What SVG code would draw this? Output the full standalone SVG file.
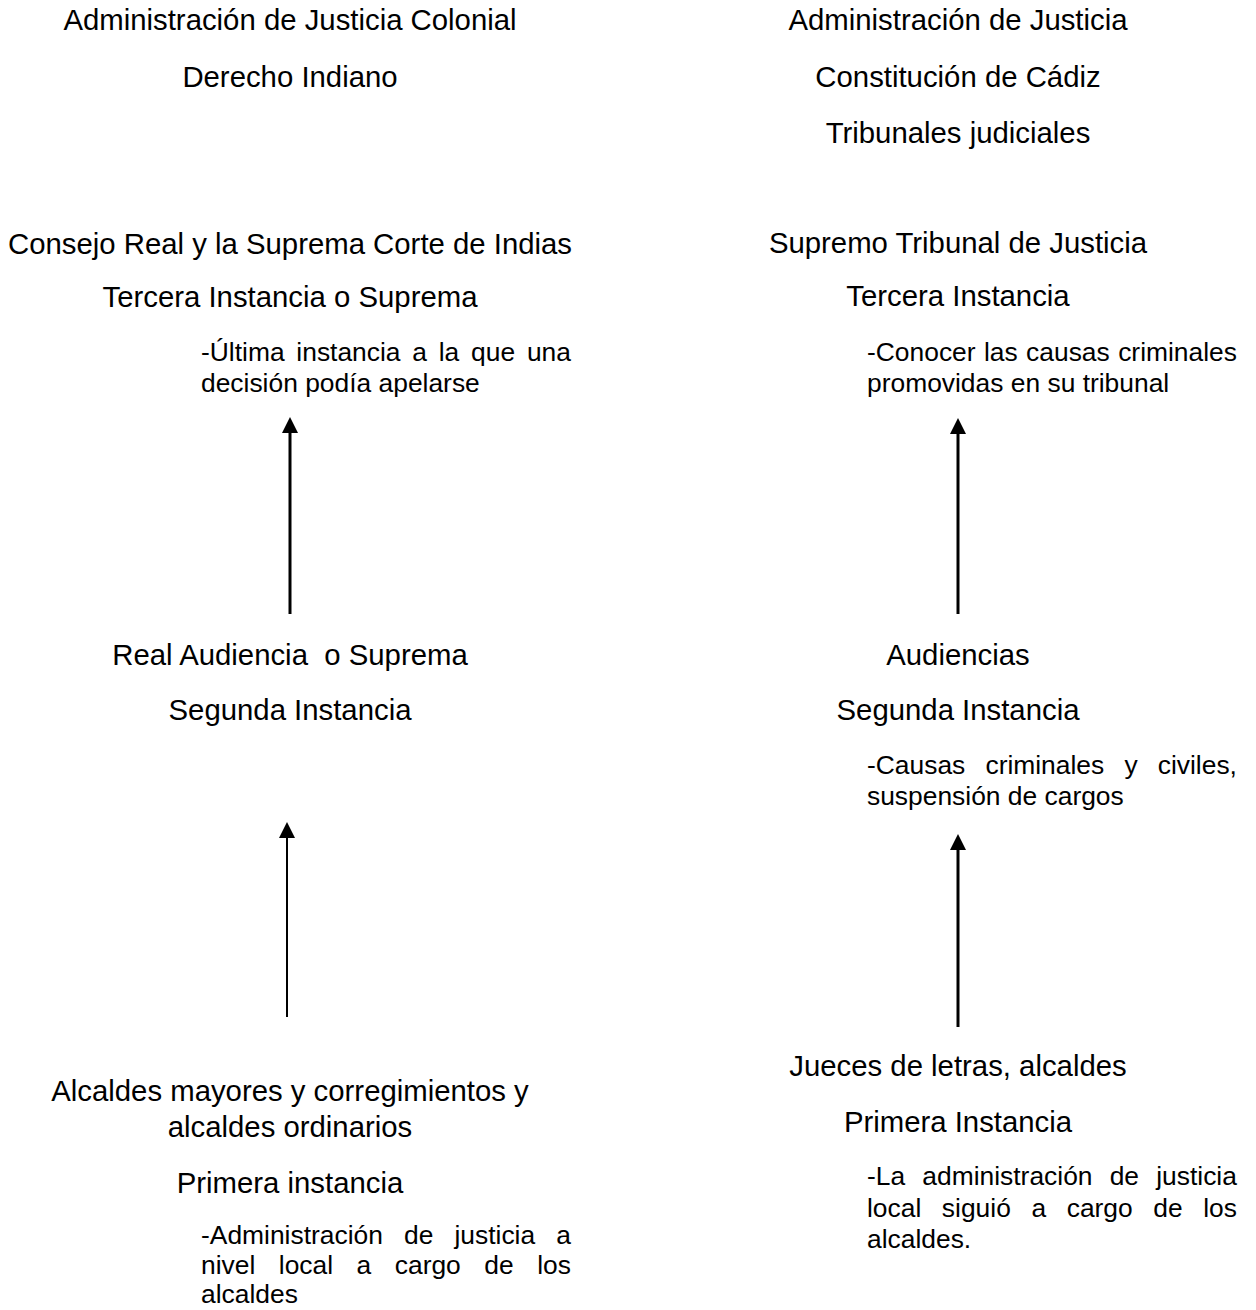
<svg xmlns="http://www.w3.org/2000/svg" width="1256" height="1310" viewBox="0 0 1256 1310">
<style>
text{font-family:"Liberation Sans",Arial,sans-serif;fill:#000}
.h{font-size:29.33px;text-anchor:middle}
.p{font-size:26.4px}
.c{stroke:#000;fill:none}
</style>
<defs>
<marker id="ah" viewBox="0 0 16 16" refX="0" refY="8" markerWidth="16" markerHeight="16" markerUnits="userSpaceOnUse" orient="auto">
<path d="M0,0 L16,8 L0,16 z" fill="#000"/>
</marker>
</defs>
<rect width="1256" height="1310" fill="#fff"/>
<g id="title-left">
<text class="h" x="290" y="30">Administración de Justicia Colonial</text>
<text class="h" x="290" y="87">Derecho Indiano</text>
</g>
<g id="title-right">
<text class="h" x="958" y="30">Administración de Justicia</text>
<text class="h" x="958" y="87">Constitución de Cádiz</text>
<text class="h" x="958" y="143">Tribunales judiciales</text>
</g>
<g id="node-consejo">
<text class="h" x="290" y="254">Consejo Real y la Suprema Corte de Indias</text>
<text class="h" x="290" y="307">Tercera Instancia o Suprema</text>
<text class="p" x="201" y="361" word-spacing="4.45">-Última instancia a la que una</text>
<text class="p" x="201" y="392">decisión podía apelarse</text>
</g>
<g id="node-audiencia-real">
<text class="h" x="290" y="665" xml:space="preserve">Real Audiencia  o Suprema</text>
<text class="h" x="290" y="720">Segunda Instancia</text>
</g>
<g id="node-alcaldes-mayores">
<text class="h" x="290" y="1101">Alcaldes mayores y corregimientos y</text>
<text class="h" x="290" y="1137">alcaldes ordinarios</text>
<text class="h" x="290" y="1193">Primera instancia</text>
<text class="p" x="201" y="1244" word-spacing="13.8">-Administración de justicia a</text>
<text class="p" x="201" y="1274" word-spacing="16.18">nivel local a cargo de los</text>
<text class="p" x="201" y="1303">alcaldes</text>
</g>
<g id="node-supremo">
<text class="h" x="958" y="253">Supremo Tribunal de Justicia</text>
<text class="h" x="958" y="306">Tercera Instancia</text>
<text class="p" x="867" y="361" word-spacing="1.09">-Conocer las causas criminales</text>
<text class="p" x="867" y="392">promovidas en su tribunal</text>
</g>
<g id="node-audiencias">
<text class="h" x="958" y="665">Audiencias</text>
<text class="h" x="958" y="720">Segunda Instancia</text>
<text class="p" x="867" y="774" word-spacing="12.83">-Causas criminales y civiles,</text>
<text class="p" x="867" y="805">suspensión de cargos</text>
</g>
<g id="node-jueces">
<text class="h" x="958" y="1076">Jueces de letras, alcaldes</text>
<text class="h" x="958" y="1132">Primera Instancia</text>
<text class="p" x="867" y="1185" word-spacing="9.86">-La administración de justicia</text>
<text class="p" x="867" y="1217" word-spacing="13.26">local siguió a cargo de los</text>
<text class="p" x="867" y="1248">alcaldes.</text>
</g>
<g id="connectors">
<line class="c" x1="290" y1="614" x2="290" y2="433" stroke-width="3" marker-end="url(#ah)"/>
<line class="c" x1="287" y1="1017" x2="287" y2="838" stroke-width="2" marker-end="url(#ah)"/>
<line class="c" x1="958" y1="614" x2="958" y2="434" stroke-width="3" marker-end="url(#ah)"/>
<line class="c" x1="958" y1="1027" x2="958" y2="850" stroke-width="3" marker-end="url(#ah)"/>
</g>
</svg>
